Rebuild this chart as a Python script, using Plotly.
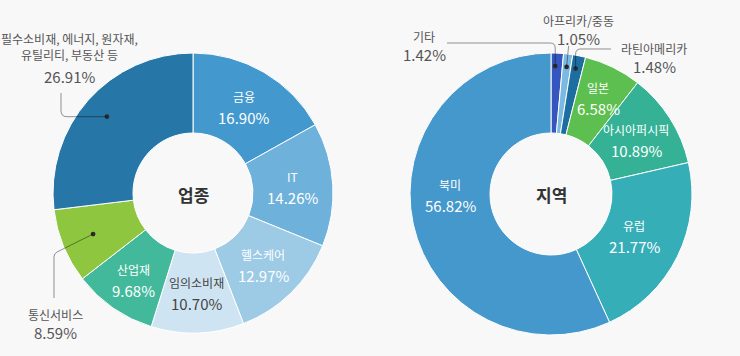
import math
import plotly.graph_objects as go

# ---------------- data ----------------
sector_labels = ["금융", "IT", "헬스케어", "임의소비재", "산업재", "통신서비스",
                 "필수소비재, 에너지, 원자재,<br>유틸리티, 부동산 등"]
sector_values = [16.90, 14.26, 12.97, 10.70, 9.68, 8.59, 26.91]
sector_colors = ["#4398ce", "#6eb1db", "#9dcae5", "#cfe4f2", "#43b99b", "#8fc640", "#2677a8"]

region_labels = ["기타", "아프리카/중동", "라틴아메리카", "일본", "아시아퍼시픽", "유럽", "북미"]
region_values = [1.42, 1.05, 1.48, 6.58, 10.89, 21.77, 56.82]
region_colors = ["#3556be", "#7ab9e2", "#1d6ea0", "#5dbf4f", "#35b296", "#35aeb8", "#4598cc"]

center_titles = ["업종", "지역"]

W, H = 740, 356
FONT = "Noto Sans CJK KR"
BG = "#f8f8f9"
OUT_COL = "#555555"


def px(x):
    return x / W


def py(y):
    return 1 - y / H


# donut geometry (pixels)
donuts = [
    dict(cx=193, cy=193, R=140, r=60),
    dict(cx=551, cy=194, R=141, r=61),
]


def mid_angles(values):
    tot = sum(values)
    out, cum = [], 0
    for v in values:
        out.append((cum + v / 2) / tot * 360)
        cum += v
    return out


def polar(d, ang, rho):
    a = math.radians(ang)
    return d["cx"] + rho * math.sin(a), d["cy"] - rho * math.cos(a)


fig = go.Figure()
for d, labels, values, colors in [
    (donuts[0], sector_labels, sector_values, sector_colors),
    (donuts[1], region_labels, region_values, region_colors),
]:
    fig.add_trace(go.Pie(
        labels=labels, values=values, sort=False, direction="clockwise", rotation=0,
        hole=d["r"] / d["R"],
        marker=dict(colors=colors, line=dict(color="white", width=1)),
        textinfo="none", hoverinfo="label+value", showlegend=False,
        domain=dict(x=[px(d["cx"] - d["R"]), px(d["cx"] + d["R"])],
                    y=[py(d["cy"] + d["R"]), py(d["cy"] - d["R"])]),
    ))

annotations = []
shapes = []


def add_text(x, y, text, size, color, weight=None, yanchor="middle"):
    f = dict(family=FONT, size=size, color=color)
    if weight:
        f["weight"] = weight
    annotations.append(dict(x=px(x), y=py(y), xref="paper", yref="paper", text=text,
                            showarrow=False, xanchor="center", yanchor=yanchor, font=f,
                            borderpad=0))


def inside_label(d, ang, rho, name, val, color="white"):
    x, y = polar(d, ang, rho)
    add_text(x, y - 10, name, 12, color)
    add_text(x, y + 11, f"{val:.2f}%", 15, color)


LINE = "rgba(0,0,0,0.42)"


def add_path(path):
    shapes.append(dict(type="path", path=path, xref="paper", yref="paper",
                       line=dict(color=LINE, width=1)))


def add_dot(x, y, rr=2.4):
    shapes.append(dict(type="circle", xref="paper", yref="paper",
                       x0=px(x - rr), x1=px(x + rr), y0=py(y + rr), y1=py(y - rr),
                       fillcolor="#2b2b2b", line=dict(width=0)))


def P(x, y):
    return f"{px(x):.5f},{py(y):.5f}"


# ---------------- sector donut ----------------
d = donuts[0]
ang = mid_angles(sector_values)
rho_l = {4: 105}
for i in range(5):
    col = "#444444" if i == 3 else "white"
    inside_label(d, ang[i], rho_l.get(i, 100), sector_labels[i], sector_values[i], col)

# 통신서비스 (outside, below-left)
dx, dy = polar(d, ang[5], 108)
add_dot(dx, dy)
add_path(f"M{P(dx, dy)} L{P(57, 252)} Q{P(54, 253.5)} {P(54, 257)} L{P(54, 298)}")
add_text(55, 314, sector_labels[5], 12, OUT_COL)
add_text(55, 332, f"{sector_values[5]:.2f}%", 15, OUT_COL)

# 필수소비재 ... (outside, top-left)
dx, dy = polar(d, ang[6], 115)
add_dot(dx, dy)
add_path(f"M{P(dx, dy)} L{P(67, dy)} Q{P(61, dy)} {P(61, dy - 6)} L{P(61, 93)}")
add_text(69, 64, sector_labels[6], 12, OUT_COL, yanchor="bottom")
add_text(69, 64.5, f"{sector_values[6]:.2f}%", 15, OUT_COL, yanchor="top")

add_text(d["cx"], d["cy"] + 1, center_titles[0], 17, "#333333", "bold")

# ---------------- region donut ----------------
d = donuts[1]
ang = mid_angles(region_values)
label_angle = {6: 270}
rho_r = {3: 107, 5: 93}
for i in range(3, 7):
    a = label_angle.get(i, ang[i])
    inside_label(d, a, rho_r.get(i, 101), region_labels[i], region_values[i])

# 기타
dx, dy = polar(d, ang[0], 128)
add_dot(dx - 1.5, dy)
add_path(f"M{P(dx - 1.5, dy)} L{P(dx - 1.5, 48)} Q{P(dx - 1.5, 43)} {P(dx - 6.5, 43)} L{P(447, 43)}")
add_text(424, 36, region_labels[0], 12, OUT_COL)
add_text(424, 54, f"{region_values[0]:.2f}%", 15, OUT_COL)

# 아프리카/중동
dx, dy = polar(d, ang[1], 128)
add_dot(dx, dy)
add_path(f"M{P(dx, dy)} L{P(dx + 2, 46)}")
add_text(578, 20, region_labels[1], 12, OUT_COL)
add_text(578, 38, f"{region_values[1]:.2f}%", 15, OUT_COL)

# 라틴아메리카
dx, dy = polar(d, ang[2], 128)
add_dot(dx - 1, dy)
add_path(f"M{P(dx - 1, dy)} L{P(dx - 1, 54)} Q{P(dx - 1, 49)} {P(dx + 4, 49)} L{P(611, 49)}")
add_text(654, 49, region_labels[2], 12, OUT_COL)
add_text(654, 67, f"{region_values[2]:.2f}%", 15, OUT_COL)

add_text(d["cx"], d["cy"] + 1, center_titles[1], 17, "#333333", "bold")

fig.update_layout(
    width=W, height=H,
    margin=dict(l=0, r=0, t=0, b=0),
    paper_bgcolor=BG, plot_bgcolor=BG,
    annotations=annotations, shapes=shapes,
    font=dict(family=FONT),
)
fig.write_html(
    "out.html",
    config={"displayModeBar": False},
    post_script="document.body.style.margin='0';document.body.style.background='" + BG + "';",
)
